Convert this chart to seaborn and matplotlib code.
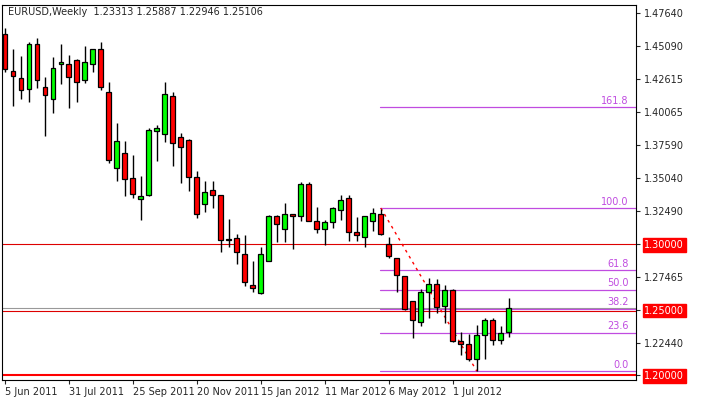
import matplotlib
matplotlib.use("Agg")
import matplotlib.pyplot as plt
import seaborn as sns
import pandas as pd
import numpy as np

opens = [1.4603,1.4321,1.4267,1.4183,1.4527,1.4199,1.4107,1.4374,1.4374,1.4405,1.4252,1.4374,1.4489,1.4161,1.3580,1.3695,
         1.3504,1.3344,1.3374,1.3863,1.3840,1.4130,1.3817,1.3794,1.3512,1.3305,1.3412,1.3374,1.3038,1.3046,1.2924,1.2687,
         1.2626,1.2870,1.3214,1.3115,1.3229,1.3214,1.3458,1.3176,1.3115,1.3168,1.3260,1.3351,1.3092,1.3054,1.3176,1.3229,
         1.3000,1.2893,1.2756,1.2565,1.2405,1.2634,1.2695,1.2527,1.2649,1.2259,1.2237,1.2122,1.2306,1.2420,1.2267,1.23313]
highs = [1.4649,1.4489,1.4435,1.4542,1.4573,1.4275,1.4428,1.4527,1.4443,1.4413,1.4512,1.4489,1.4542,1.4237,1.3924,1.3786,
         1.3680,1.3519,1.3886,1.3909,1.4237,1.4161,1.3848,1.3802,1.3557,1.3481,1.3481,1.3374,1.3191,1.3076,1.3069,1.2870,
         1.2977,1.3222,1.3222,1.3313,1.3229,1.3473,1.3473,1.3283,1.3183,1.3283,1.3374,1.3374,1.3206,1.3214,1.3275,1.3267,
         1.3053,1.2893,1.2756,1.2565,1.2657,1.2741,1.2733,1.2687,1.2657,1.2328,1.2313,1.2382,1.2435,1.2435,1.2374,1.25887]
lows = [1.4313,1.4054,1.4107,1.4084,1.4191,1.3825,1.4000,1.4222,1.4038,1.4084,1.4229,1.4313,1.4176,1.3618,1.3481,1.3367,
        1.3351,1.3183,1.3367,1.3634,1.3779,1.3596,1.3466,1.3405,1.3199,1.3244,1.3275,1.2939,1.2977,1.2847,1.2679,1.2634,
        1.2618,1.2870,1.3015,1.3015,1.2962,1.3176,1.3176,1.3084,1.2992,1.3122,1.3183,1.3023,1.3023,1.2977,1.3099,1.3069,
        1.2893,1.2634,1.2496,1.2282,1.2374,1.2435,1.2473,1.2397,1.2252,1.2152,1.2107,1.2030,1.2122,1.2229,1.2237,1.22946]
closes = [1.4336,1.4283,1.4176,1.4527,1.4252,1.4138,1.4344,1.4390,1.4275,1.4237,1.4390,1.4489,1.4199,1.3641,1.3786,1.3496,
          1.3382,1.3367,1.3870,1.3886,1.4145,1.3771,1.3741,1.3512,1.3229,1.3397,1.3374,1.3031,1.3031,1.2939,1.2710,1.2664,
          1.2924,1.3214,1.3153,1.3229,1.3214,1.3458,1.3176,1.3115,1.3168,1.3275,1.3336,1.3092,1.3069,1.3214,1.3237,1.3076,
          1.2909,1.2763,1.2504,1.2420,1.2634,1.2695,1.2519,1.2649,1.2259,1.2237,1.2122,1.2306,1.2420,1.2267,1.2321,1.25106]

date_labels = ["5 Jun 2011", "31 Jul 2011", "25 Sep 2011", "20 Nov 2011",
               "15 Jan 2012", "11 Mar 2012", "6 May 2012", "1 Jul 2012"]
y_ticks = [1.47640, 1.45090, 1.42615, 1.40065, 1.37590, 1.35040, 1.32490, 1.30000, 1.27465, 1.25000, 1.22440, 1.20000]
fib_pct = [0.0, 23.6, 38.2, 50.0, 61.8, 100.0, 161.8]
fib_low, fib_high = 1.2030, 1.3275
fib_start, fib_end = 47, 59

df = pd.DataFrame({"i": np.arange(len(opens)), "o": opens, "h": highs, "l": lows, "c": closes})
df["bull"] = df["c"] >= df["o"]

sns.set_style("white")
plt.rcParams["font.family"] = ["DejaVu Sans"]
fig = plt.figure(figsize=(7.02, 4.0), dpi=100)
ax = fig.add_axes([2/702, 20/400, 634/702, 375/400])

ax.set_xlim(-0.375, 78.9)
ax.set_ylim(1.1963, 1.4825)

purple = "#c04ce0"
ax.axhline(1.30, color="#dd0000", lw=0.8, zorder=1)
ax.axhline(1.2511, color="#999999", lw=0.8, zorder=1)
ax.axhline(1.2490, color="#dd0000", lw=0.8, zorder=1)
ax.axhline(1.2000, color="#ff0000", lw=1.5, zorder=1)

rng = fib_high - fib_low
for p in fib_pct:
    lv = fib_low + rng * p / 100
    ax.plot([46.9, 78.9], [lv, lv], color=purple, lw=0.9, zorder=1)
    ax.text(78.0, lv + 0.0012, f"{p:.1f}", color=purple, fontsize=7, ha="right", va="bottom")
sns.lineplot(x=[fib_start, fib_end], y=[fib_high, fib_low], ax=ax, color="#ff0000",
             lw=1, linestyle=(0, (2, 3)), zorder=2)

ax.vlines(df["i"], df["l"], df["h"], color="black", lw=1, zorder=3)
body_b = np.minimum(df["o"], df["c"])
body_h = np.maximum(np.abs(df["c"] - df["o"]), 0.0004)
ax.bar(df["i"], body_h, bottom=body_b, width=0.62,
       color=np.where(df["bull"], "#00ff00", "#ff0000"), edgecolor="black", lw=0.9, zorder=4)

for s in ax.spines.values():
    s.set_color("black"); s.set_linewidth(0.8)
ax.yaxis.tick_right()
ax.set_yticks(y_ticks)
ax.set_yticklabels([f"{v:.5f}" for v in y_ticks], fontsize=7)
ax.tick_params(axis="y", length=3, pad=3, direction="out", right=True)
ax.set_xticks([0, 8, 16, 24, 32, 40, 48, 56])
ax.set_xticklabels(date_labels, fontsize=7, ha="left")
ax.tick_params(axis="x", length=3, pad=2, bottom=True)
for lab in ax.get_yticklabels():
    if lab.get_text() in ("1.30000", "1.25000", "1.20000"):
        lab.set_color("white"); lab.set_bbox(dict(facecolor="#ff0000", edgecolor="#ff0000", pad=1.2))
ax.set_xlabel(""); ax.set_ylabel("")

fig.text(8/702, 1 - 12/400, "EURUSD,Weekly  1.23313 1.25887 1.22946 1.25106", fontsize=7, va="center")
fig.savefig("out.png", dpi=100, facecolor="white")
